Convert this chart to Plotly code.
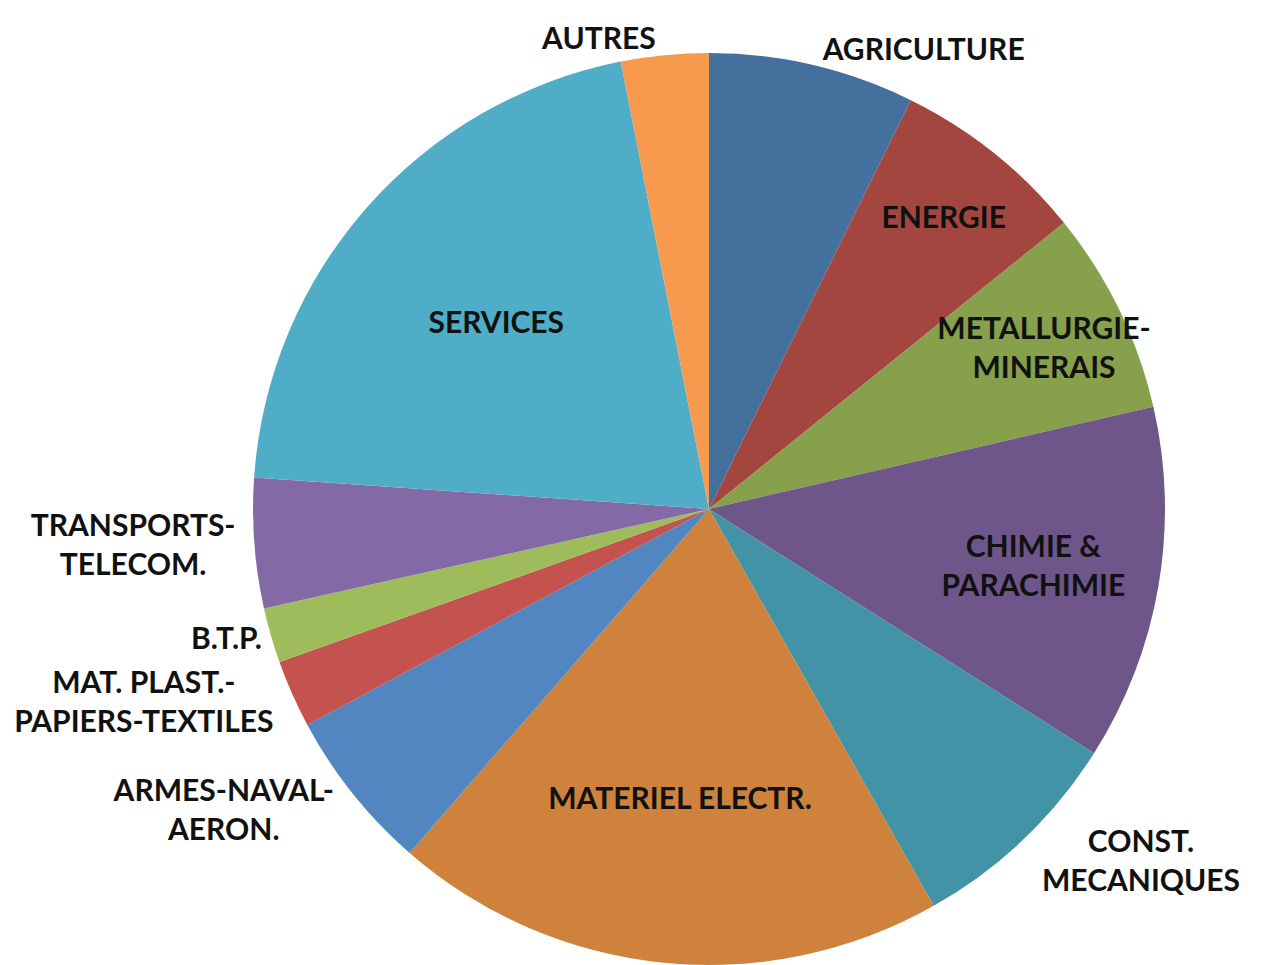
import plotly.graph_objects as go

# Sector shares (percent), read clockwise from 12 o'clock
sectors = ["AGRICULTURE", "ENERGIE", "METALLURGIE-MINERAIS", "CHIMIE & PARACHIMIE",
           "CONST. MECANIQUES", "MATERIEL ELECTR.", "ARMES-NAVAL-AERON.",
           "MAT. PLAST.-PAPIERS-TEXTILES", "B.T.P.", "TRANSPORTS-TELECOM.",
           "SERVICES", "AUTRES"]
label_text = ["AGRICULTURE", "ENERGIE", "METALLURGIE-<br>MINERAIS", "CHIMIE &<br>PARACHIMIE",
              "CONST.<br>MECANIQUES", "MATERIEL ELECTR.", "ARMES-NAVAL-<br>AERON.",
              "MAT. PLAST.-<br>PAPIERS-TEXTILES", "B.T.P.", "TRANSPORTS-<br>TELECOM.",
              "SERVICES", "AUTRES"]
shares = [7.3, 6.9, 7.2, 12.6, 7.8, 19.6, 5.75, 2.4, 1.95, 4.6, 20.8, 3.1]

colors = ["#44709E", "#A2463F", "#87A04C", "#6E568B", "#4393A6", "#CE823B",
          "#5286C0", "#C4524F", "#9EBC5B", "#836AA6", "#4FADC7", "#F79A4D"]
positions = ["outside", "inside", "inside", "inside", "outside", "inside",
             "outside", "outside", "outside", "outside", "inside", "outside"]

fig = go.Figure(go.Pie(
    labels=sectors,
    values=shares,
    text=label_text,
    textinfo="text",
    textposition=positions,
    insidetextorientation="horizontal",
    sort=False,
    direction="clockwise",
    rotation=0,
    marker=dict(colors=colors, line=dict(width=0)),
    textfont=dict(family="Lato", size=30, color="#111111", weight="bold"),
    showlegend=False,
    hoverinfo="label+percent",
    # page body adds an 8px offset, so the pie box is shifted up-left by 8px
    domain=dict(x=[245 / 1279, 1157 / 1279], y=[8 / 965, 920 / 965]),
))

fig.update_layout(
    width=1279, height=965,
    margin=dict(l=0, r=0, t=0, b=0),
    paper_bgcolor="white",
    uniformtext=dict(minsize=30, mode="show"),
)

fig.write_html("out.html")
